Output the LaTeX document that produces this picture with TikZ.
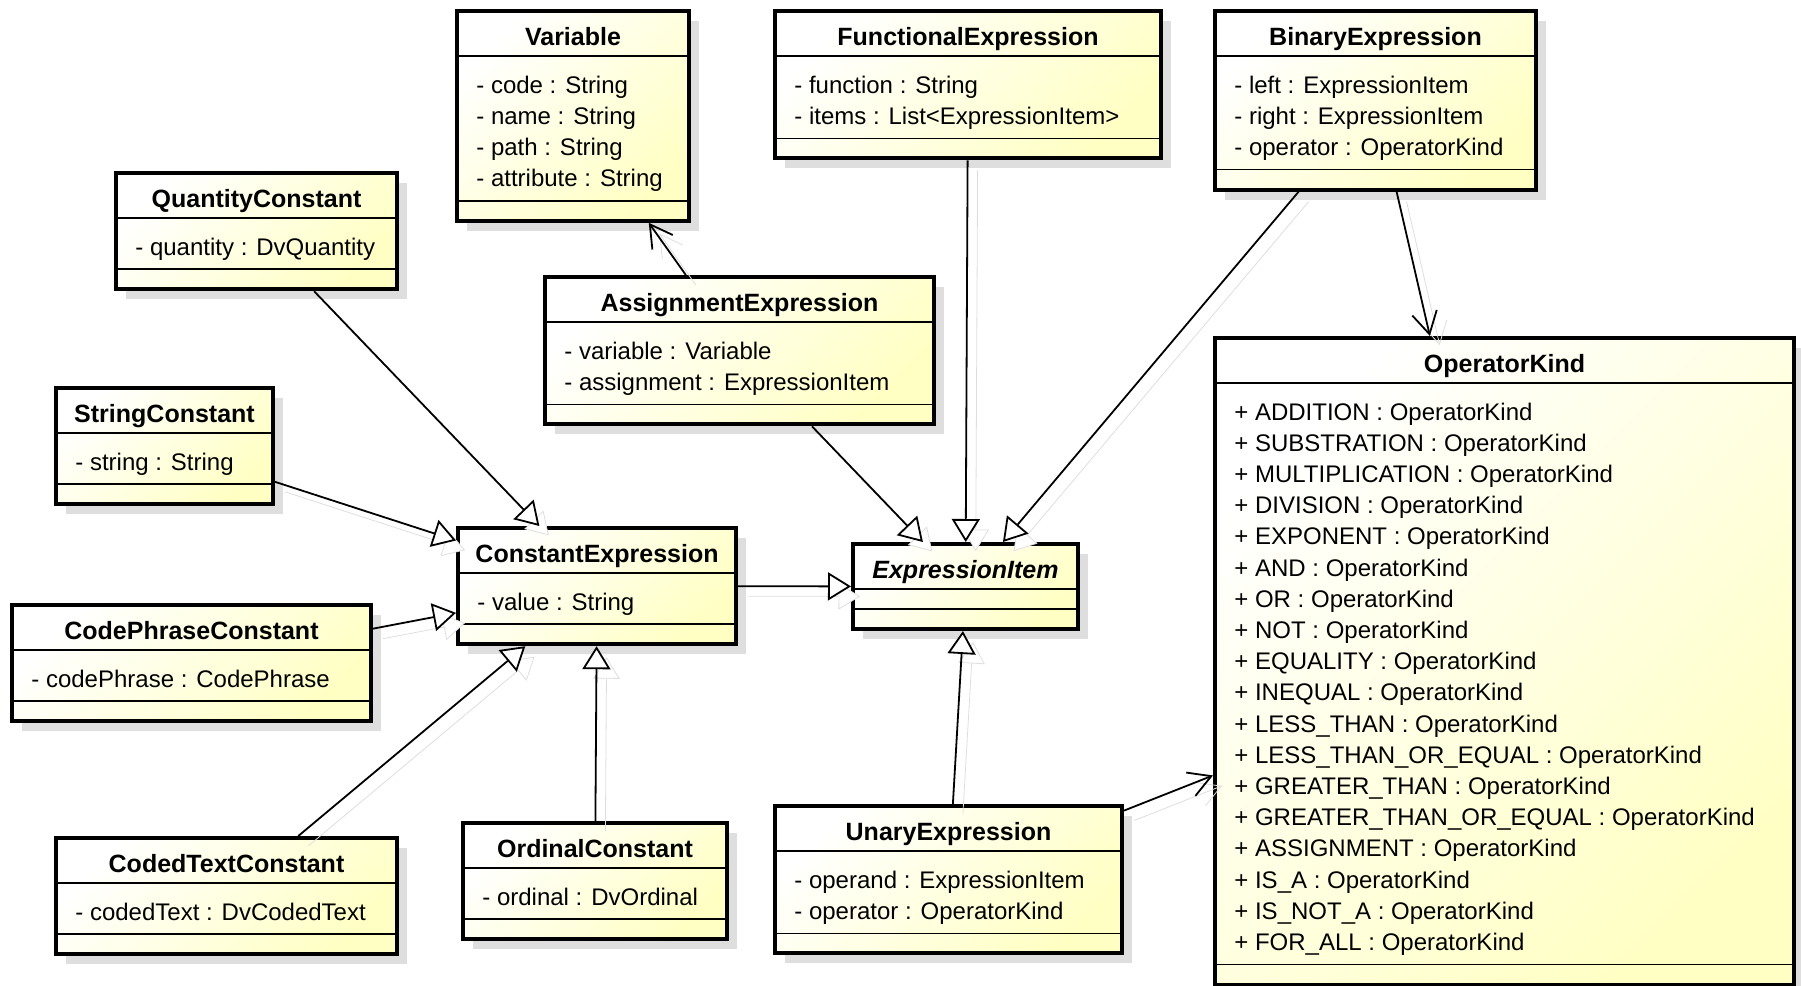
\documentclass[tikz,border=0pt]{standalone}
\usepackage{fontspec}
\setmainfont{Liberation Sans}
\usetikzlibrary{arrows.meta, calc, shadows}

\definecolor{umlfill}{RGB}{255,255,196}
\definecolor{umlshadow}{RGB}{222,222,222}

\tikzset{
	umlbox/.style={draw, line width=2pt, anchor=north west, inner sep=0pt,
		top color=white, bottom color=umlfill, shading angle=45,
		drop shadow={shadow xshift=5pt, shadow yshift=-5pt, fill=umlshadow, opacity=1}},
	umlsep/.style={line width=0.8pt},
	umltitle/.style={anchor=base, inner sep=0pt, font=\bfseries\fontsize{12.5}{15}\selectfont},
	umlattr/.style={anchor=base west, inner sep=0pt, font=\fontsize{12}{14}\selectfont},
	link/.style={line width=0.9pt,
		preaction={draw=umlshadow, transform canvas={shift={(5pt,-5pt)}}}},
	generalization/.style={link, -{Triangle[open, fill=white, length=11.5pt, width=14pt]}},
	association/.style={link, -{Straight Barb[length=11pt, width=12.5pt]}}
}

% name, left, top, width, rows, title
\newcommand{\umlclass}[6]{%
	\node[umlbox, minimum width=#4*0.5pt, minimum height={(85+31.2*#5)*0.5pt}] (#1) at (#2,#3) {};
	\draw[umlsep] ($(#1.north west)+(0,47)$) -- ($(#1.north east)+(0,47)$);
	\draw[umlsep] ($(#1.south west)+(0,-22)$) -- ($(#1.south east)+(0,-22)$);
	\node[umltitle] (#1-title) at ($(#1.north)+(0,36)$) {#6};
}
\newcommand{\umlattrs}[2]{%
	\foreach \attr [count=\i] in {#2}
		\node[umlattr] (#1-\i) at ($(#1.north west)+(21,84+31.2*\i-31.2)$) {\attr};
}

\begin{document}
\begin{tikzpicture}[x=0.5pt, y=-0.5pt]
	\useasboundingbox (0,0) rectangle (1801,986);

	\umlclass{var}{455}{9}{232}{4}{Variable}
	\umlattrs{var}{- code : String, - name : String, - path : String, - attribute : String}
	\umlclass{func}{773}{9}{386}{2}{FunctionalExpression}
	\umlattrs{func}{- function : String, - items : List<ExpressionItem>}
	\umlclass{bin}{1213}{9}{321}{3}{BinaryExpression}
	\umlattrs{bin}{- left : ExpressionItem, - right : ExpressionItem, - operator : OperatorKind}
	\umlclass{qty}{114}{171}{281}{1}{QuantityConstant}
	\umlattrs{qty}{- quantity : DvQuantity}
	\umlclass{assign}{543}{275}{389}{2}{AssignmentExpression}
	\umlattrs{assign}{- variable : Variable, - assignment : ExpressionItem}
	\umlclass{op}{1213}{336}{579}{18}{OperatorKind}
	\umlattrs{op}{+ ADDITION : OperatorKind, + SUBSTRATION : OperatorKind,
		+ MULTIPLICATION : OperatorKind, + DIVISION : OperatorKind,
		+ EXPONENT : OperatorKind, + AND : OperatorKind, + OR : OperatorKind,
		+ NOT : OperatorKind, + EQUALITY : OperatorKind, + INEQUAL : OperatorKind,
		+ LESS\_THAN : OperatorKind, + LESS\_THAN\_OR\_EQUAL : OperatorKind,
		+ GREATER\_THAN : OperatorKind, + GREATER\_THAN\_OR\_EQUAL : OperatorKind,
		+ ASSIGNMENT : OperatorKind, + IS\_A : OperatorKind,
		+ IS\_NOT\_A : OperatorKind, + FOR\_ALL : OperatorKind}
	\umlclass{str}{54}{386}{217}{1}{StringConstant}
	\umlattrs{str}{- string : String}
	\umlclass{const}{456}{526}{278}{1}{ConstantExpression}
	\umlattrs{const}{- value : String}
	\umlclass{item}{851}{542}{225}{0}{\itshape ExpressionItem}
	\umlclass{phrase}{10}{603}{359}{1}{CodePhraseConstant}
	\umlattrs{phrase}{- codePhrase : CodePhrase}
	\umlclass{coded}{54}{836}{341}{1}{CodedTextConstant}
	\umlattrs{coded}{- codedText : DvCodedText}
	\umlclass{ord}{461}{821}{264}{1}{OrdinalConstant}
	\umlattrs{ord}{- ordinal : DvOrdinal}
	\umlclass{unary}{773}{804}{347}{2}{UnaryExpression}
	\umlattrs{unary}{- operand : ExpressionItem, - operator : OperatorKind}

	\draw[association] (assign) -- (var);
	\draw[generalization] (qty) -- (const);
	\draw[generalization] (str) -- (const);
	\draw[generalization] (phrase) -- (const);
	\draw[generalization] (coded) -- (const);
	\draw[generalization] (ord) -- (const);
	\draw[generalization] (const) -- (item);
	\draw[generalization] (assign) -- (item);
	\draw[generalization] (func) -- (item);
	\draw[generalization] (bin) -- (item);
	\draw[generalization] (unary) -- (item);
	\draw[association] (bin) -- (op);
	\draw[association] (unary) -- (op);
\end{tikzpicture}
\end{document}
